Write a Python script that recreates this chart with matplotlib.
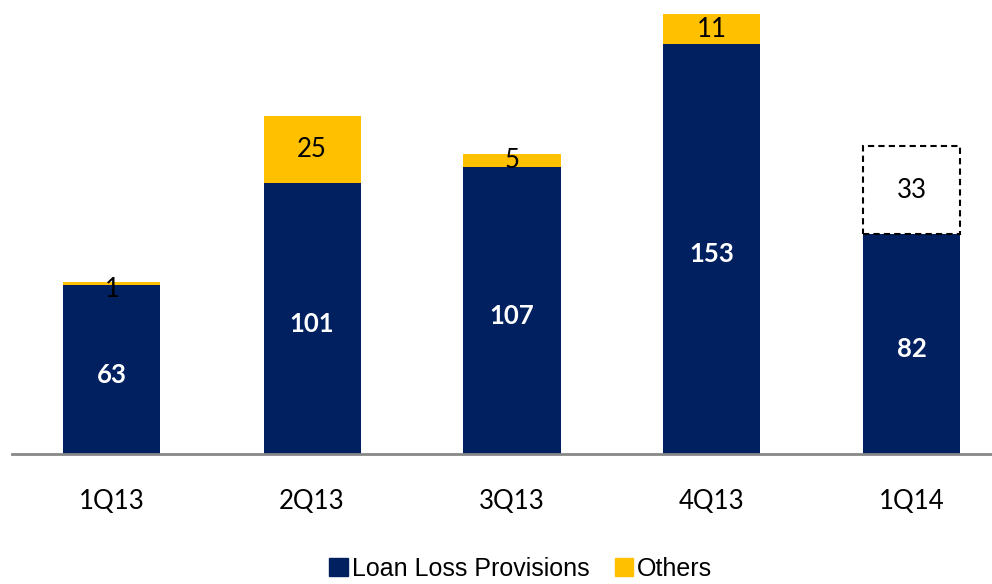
import matplotlib.pyplot as plt
from matplotlib.patches import Patch

# Données
quarters = ['1Q13', '2Q13', '3Q13', '4Q13', '1Q14']
loan_loss = [63, 101, 107, 153, 82]
others = [1, 25, 5, 11, 33]

navy = '#002060'
yellow = '#FFC000'

fig = plt.figure(figsize=(9.92, 5.84), dpi=100)
ax = fig.add_axes([12 / 992, 1 - 454 / 584, 980 / 992, 454 / 584])

x = list(range(len(quarters)))
width = 0.485

ax.bar(x, loan_loss, width, color=navy)
# les 4 premiers trimestres en jaune, le dernier en boîte pointillée
ax.bar(x[:-1], others[:-1], width, bottom=loan_loss[:-1], color=yellow)
ax.bar(x[-1:], others[-1:], width, bottom=loan_loss[-1:], facecolor='white',
       edgecolor='black', linestyle=(0, (3, 2)), linewidth=1.5)

for xi, v in zip(x, loan_loss):
    ax.text(xi, v / 2 - 2, str(v), ha='center', va='center', color='white',
            fontsize=18.5, fontweight='bold', family='Lato')
for xi, b, v in zip(x, loan_loss, others):
    y = b + v / 2
    if v < 3:
        y = b - 1.5
    ax.text(xi, y, str(v), ha='center', va='center', color='black',
            fontsize=18.5, family='Lato')

ax.set_xlim(-0.5, 4.4)
ax.set_ylim(0, 169.4)
ax.set_xticks(x)
ax.set_xticklabels(quarters, fontsize=18.5, family='Lato')
ax.tick_params(axis='x', length=0, pad=25)
ax.set_yticks([])
for s in ['top', 'right', 'left']:
    ax.spines[s].set_visible(False)
ax.spines['bottom'].set_color('#888888')
ax.spines['bottom'].set_linewidth(2)

handles = [Patch(color=navy, label='Loan Loss Provisions'),
           Patch(color=yellow, label='Others')]
fig.legend(handles=handles, loc='lower center', bbox_to_anchor=(0.525, -0.033),
           ncol=2, frameon=False, prop={'family': 'Liberation Sans', 'size': 18},
           handlelength=0.75, handleheight=0.75, handletextpad=0.15, columnspacing=1.0)

fig.savefig('out.png', dpi=100)
